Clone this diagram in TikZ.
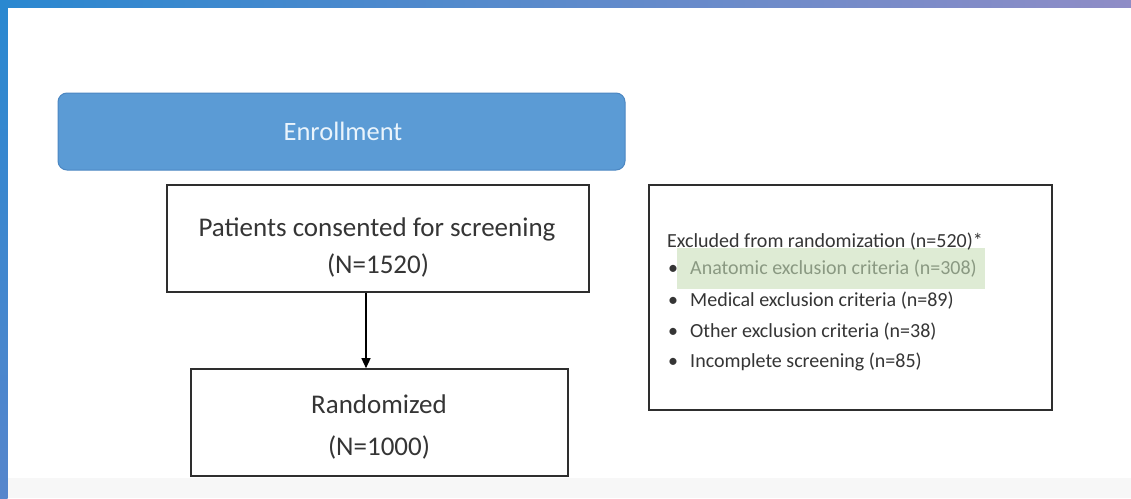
\documentclass[tikz,border=0pt]{standalone}
\usepackage{fontspec}
\setmainfont{Carlito}
\usetikzlibrary{arrows.meta}
\definecolor{barL}{HTML}{2A88D0}
\definecolor{barR}{HTML}{8F8CC6}
\definecolor{barB}{HTML}{5686CC}
\definecolor{enrFill}{HTML}{5B9BD5}
\definecolor{enrLine}{HTML}{4C87C2}
\definecolor{enrText}{HTML}{EAF4FC}
\definecolor{txt}{HTML}{353535}
\definecolor{boxLine}{HTML}{2E2E2E}
\definecolor{hiFill}{HTML}{DEEBD4}
\definecolor{hiText}{HTML}{8A9982}
\definecolor{band}{HTML}{F7F7F7}
\tikzset{
  flowbox/.style={draw=boxLine, line width=1.6pt, fill=white, inner sep=0pt},
  bigtxt/.style={anchor=base, inner sep=0pt, text=txt, font=\fontsize{27}{30}\selectfont},
  smalltxt/.style={anchor=base west, inner sep=0pt, text=txt, font=\fontsize{20}{22}\selectfont},
}
\begin{document}
\begin{tikzpicture}[x=1pt,y=-1pt]
\useasboundingbox (0,0) rectangle (1131,498);
% background
\fill[white] (0,0) rectangle (1131,498);
\fill[band] (8,478) rectangle (1131,498);
\shade[left color=barL, right color=barR] (0,0) rectangle (1131,7.5);
\shade[top color=barL, bottom color=barB] (0,7) rectangle (7.5,498);
% enrollment banner
\node[draw=enrLine, line width=1pt, fill=enrFill, rounded corners=9pt,
      minimum width=567pt, minimum height=77pt, inner sep=0pt] (enr) at (341.5,131.5) {};
\node[anchor=base, inner sep=0pt, text=enrText, font=\fontsize{26.5}{30}\selectfont] (enrt) at (343,140) {Enrollment};
% box 1
\node[flowbox, minimum width=422pt, minimum height=107pt] (box1) at (378,238.5) {};
\node[bigtxt] (b1a) at (377,236) {Patients consented for screening};
\node[bigtxt] (b1b) at (378,273) {(N=1520)};
% box 2
\node[flowbox, minimum width=377pt, minimum height=107pt] (box2) at (379.5,422.5) {};
\node[bigtxt] (b2a) at (379,413) {Randomized};
\node[bigtxt] (b2b) at (379,455) {(N=1000)};
% arrow
\coordinate (ax) at (366,0);
\draw[-{Triangle[length=10pt,width=9pt]}, line width=1.3pt, draw=black]
  (box1.south -| ax) -- (box2.north -| ax);
% box 3
\node[flowbox, minimum width=403pt, minimum height=225pt] (box3) at (850.5,297.5) {};
\fill[hiFill] (677,248) rectangle (985,289);
\node[smalltxt] (h) at (667,247) {Excluded from randomization (n=520)*};
\node[smalltxt] (u1) at (668,274) {•};
\node[smalltxt, text=hiText] (t1) at (690,274) {Anatomic exclusion criteria (n=308)};
\node[smalltxt] (u2) at (668,306) {•};
\node[smalltxt] (t2) at (690,306) {Medical exclusion criteria (n=89)};
\node[smalltxt] (u3) at (668,337) {•};
\node[smalltxt] (t3) at (690,337) {Other exclusion criteria (n=38)};
\node[smalltxt] (u4) at (668,367) {•};
\node[smalltxt] (t4) at (690,367) {Incomplete screening (n=85)};
\end{tikzpicture}
\end{document}
